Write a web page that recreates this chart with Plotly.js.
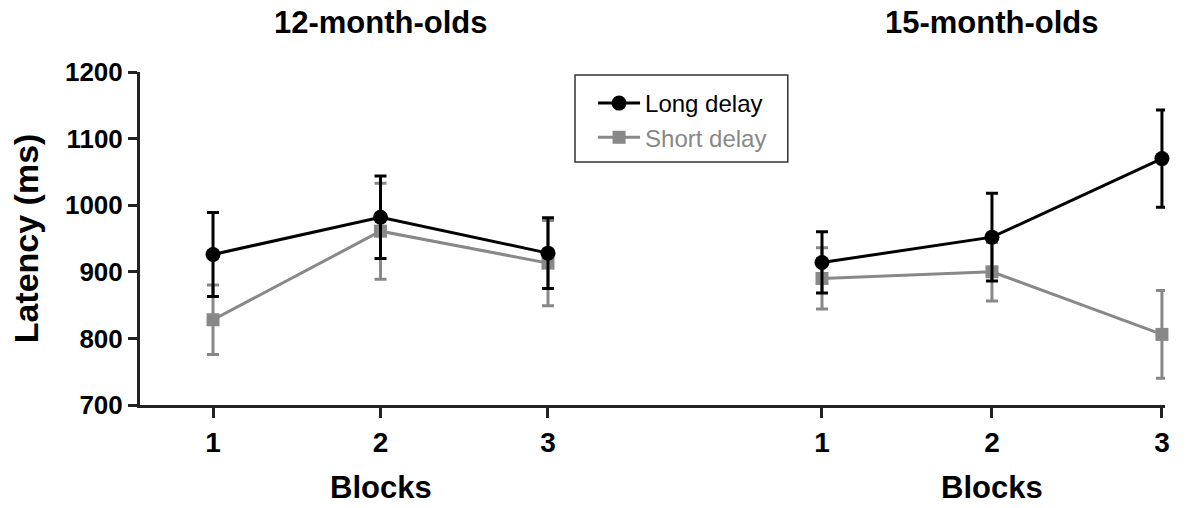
<!DOCTYPE html>
<html>
<head>
<meta charset="utf-8">
<script src="https://cdn.plot.ly/plotly-3.0.1.min.js"></script>
<style>html,body{margin:0;padding:0;background:#fff}#chart{width:1189px;height:508px}</style>
</head>
<body>
<div id="chart"></div>
<script>
const blocks = ['1', '2', '3'];
const panelTitles = ['12-month-olds', '15-month-olds'];
const axisTitle = 'Blocks';
const seriesNames = ['Long delay', 'Short delay'];
const long12 = [926, 982, 928];
const long12Err = [63, 62, 53];
const short12 = [828, 961, 913];
const short12Err = [52, 72, 64];
const long15 = [914, 952, 1070];
const long15Err = [46, 66, 73];
const short15 = [890, 900, 806];
const short15Err = [46, 44, 66];
const yTicks = [700, 800, 900, 1000, 1100, 1200];

const BLACK = '#000000';
const GRAY = '#888888';
const FONT = 'Liberation Sans, Arial, sans-serif';
const MID = blocks.indexOf('2');

function trace(y, err, xa, name, color, symbol, size, show) {
  return {
    type: 'scatter', mode: 'lines+markers',
    x: blocks, y: y, xaxis: xa, yaxis: 'y',
    name: name, showlegend: show, legendgroup: name,
    line: {color: color, width: 3},
    marker: {color: color, symbol: symbol, size: size},
    error_y: {type: 'data', array: err, visible: true, color: color, thickness: 3, width: 6},
    cliponaxis: false
  };
}

const data = [
  trace(short12, short12Err, 'x', '<span style="color:#888888">' + seriesNames[1] + '</span>', GRAY, 'square', 13, true),
  trace(long12, long12Err, 'x', seriesNames[0], BLACK, 'circle', 15, true),
  trace(short15, short15Err, 'x2', '<span style="color:#888888">' + seriesNames[1] + '</span>', GRAY, 'square', 13, false),
  trace(long15, long15Err, 'x2', seriesNames[0], BLACK, 'circle', 15, false)
];

const xCommon = {
  type: 'category', showline: true, linewidth: 3, linecolor: '#222',
  ticks: 'outside', ticklen: 10, tickwidth: 3, tickcolor: '#222',
  showgrid: false, zeroline: false,
  tickfont: {family: FONT, size: 28, color: '#000', weight: 'bold'},
  anchor: 'y', fixedrange: true
};

function ann(text, xa, y, size) {
  return {text: text, xref: xa, yref: 'paper', x: MID, y: y, yanchor: 'middle', showarrow: false,
          font: {family: FONT, size: size, color: '#000', weight: 'bold'}};
}

const layout = {
  width: 1189, height: 508,
  margin: {l: 140, r: 24, t: 72, b: 103},
  paper_bgcolor: '#fff', plot_bgcolor: '#fff',
  showlegend: true,
  legend: {
    x: 0.442, y: 0.973, xanchor: 'left', yanchor: 'top',
    borderwidth: 0, bgcolor: 'rgba(0,0,0,0)',
    traceorder: 'reversed',
    font: {family: FONT, size: 24, color: '#000'},
    itemwidth: 42
  },
  shapes: [
    {type: 'rect', xref: 'paper', yref: 'paper', x0: 0.4244, x1: 0.632, y0: 0.730, y1: 0.991,
     line: {color: '#333', width: 1.5}, fillcolor: 'rgba(255,255,255,0)', layer: 'below'}
  ],
  xaxis: Object.assign({}, xCommon, {domain: [0, 0.5317], range: [-0.436, 2.818]}),
  xaxis2: Object.assign({}, xCommon, {domain: [0.5317, 1], range: [-0.806, 2.018]}),
  yaxis: {
    range: [700, 1200], tickvals: yTicks, showline: true, linewidth: 3, linecolor: '#222',
    ticks: 'outside', ticklen: 9, tickwidth: 3, tickcolor: '#222',
    showgrid: false, zeroline: false,
    tickfont: {family: FONT, size: 26, color: '#000', weight: 'bold'},
    title: {text: 'Latency (ms)', standoff: 17, font: {family: FONT, size: 34, color: '#000', weight: 'bold'}},
    anchor: 'x', fixedrange: true
  },
  annotations: [
    ann(panelTitles[0], 'x', 1.150, 31),
    ann(panelTitles[1], 'x2', 1.150, 31),
    ann(axisTitle, 'x', -0.249, 31),
    ann(axisTitle, 'x2', -0.249, 31)
  ]
};

Plotly.newPlot('chart', data, layout, {displayModeBar: false, staticPlot: true});
</script>
</body>
</html>
